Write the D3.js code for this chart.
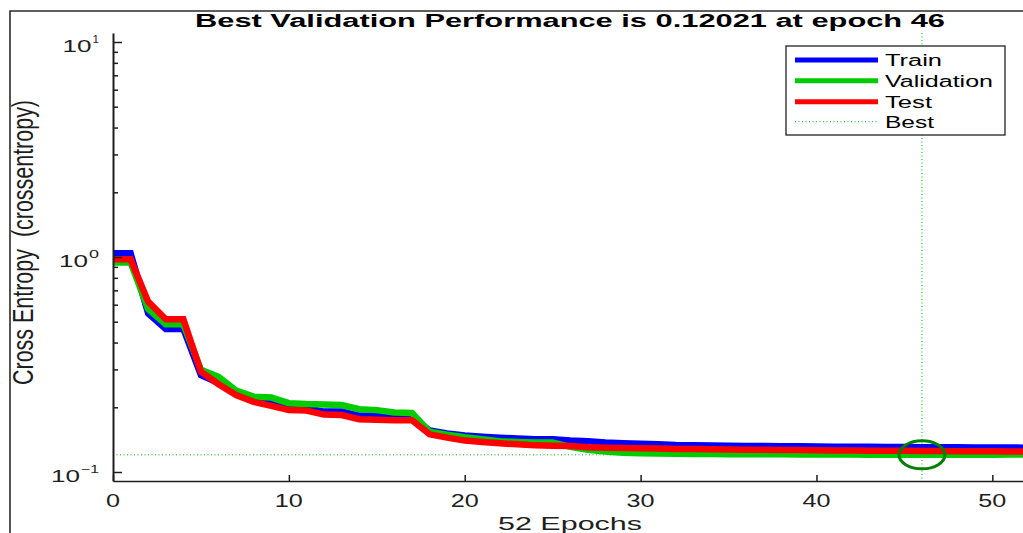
<!DOCTYPE html>
<html>
<head>
<meta charset="utf-8">
<script src="https://cdn.jsdelivr.net/npm/d3@7"></script>
<style>
  html, body { margin: 0; padding: 0; background: #fff; }
  svg { display: block; font-family: "Liberation Sans", Arial, sans-serif; }
</style>
</head>
<body>
<svg id="chart" width="1023" height="533"></svg>
<script>
// Training record: cross-entropy per epoch for each data split
const epochs = d3.range(0, 53);

const trainPerf = [
  1.04, 1.04, 0.547, 0.463, 0.463, 0.282, 0.259, 0.232, 0.216, 0.209,
  0.198, 0.198, 0.191, 0.191, 0.183, 0.182, 0.181, 0.181, 0.156, 0.151,
  0.148, 0.146, 0.1445, 0.143, 0.142, 0.142, 0.140, 0.139, 0.137, 0.136,
  0.1355, 0.1345, 0.1335, 0.1332, 0.1328, 0.1325, 0.1322, 0.132, 0.1318, 0.1316,
  0.1314, 0.1312, 0.131, 0.1309, 0.1308, 0.1306, 0.1305, 0.1303, 0.1302, 0.1301,
  0.13, 0.1299, 0.1298
];

const valPerf = [
  0.944, 0.944, 0.573, 0.486, 0.486, 0.299, 0.277, 0.239, 0.224, 0.222,
  0.209, 0.207, 0.206, 0.205, 0.196, 0.194, 0.189, 0.188, 0.154, 0.149,
  0.145, 0.142, 0.139, 0.138, 0.137, 0.137, 0.131, 0.127, 0.1245, 0.123,
  0.1222, 0.1218, 0.1215, 0.1213, 0.1211, 0.121, 0.1209, 0.1209, 0.1208, 0.1207,
  0.1207, 0.1206, 0.1205, 0.1204, 0.1204, 0.1203, 0.12021, 0.1203, 0.1203, 0.1204,
  0.1204, 0.1205, 0.1205
];

const testPerf = [
  0.976, 0.976, 0.62, 0.513, 0.513, 0.293, 0.256, 0.228, 0.212, 0.203,
  0.194, 0.193, 0.185, 0.184, 0.176, 0.175, 0.174, 0.174, 0.1497, 0.1445,
  0.140, 0.138, 0.136, 0.1345, 0.133, 0.1325, 0.132, 0.1305, 0.1297, 0.1292,
  0.129, 0.1285, 0.128, 0.1278, 0.1275, 0.1272, 0.127, 0.1268, 0.1266, 0.1264,
  0.1262, 0.126, 0.1258, 0.1257, 0.1255, 0.1254, 0.1252, 0.1251, 0.125, 0.1249,
  0.1248, 0.1247, 0.1246
];

const bestEpoch = 46;
const bestPerf = 0.12021;

const seriesNames = ["Train", "Validation", "Test", "Best"];
const seriesColors = ["#0000ff", "#00cc00", "#ff0000", "#00b400"];

const xTicks = [0, 10, 20, 30, 40, 50];
const yMajorTicks = [0.1, 1, 10];
const yMajorExp = ["\u22121", "0", "1"];
const yMinorTicks = [0.2, 0.3, 0.4, 0.5, 0.6, 0.7, 0.8, 0.9, 2, 3, 4, 5, 6, 7, 8, 9];

// Layout
const svg = d3.select("#chart");
const axisColor = "#1e1e1e";
const plotLeft = 113, plotBottom = 481, plotTop = 33;

const x = d3.scaleLinear().domain([0, 52]).range([plotLeft, 1027.5]);
const y = d3.scaleLog()
  .domain([Math.pow(10, -1 - 9 / 215), Math.pow(10, 1 + 9 / 215)])
  .range([plotBottom, plotTop]);

// Outer figure frame (top and left edges)
svg.append("path")
  .attr("d", "M10,533 V11 H1023")
  .attr("fill", "none")
  .attr("stroke", "#2a2a2a")
  .attr("stroke-width", 1.6);

// Best-epoch guide lines
const bx = x(bestEpoch), by = y(bestPerf);
svg.append("line")
  .attr("x1", bx).attr("x2", bx).attr("y1", plotTop).attr("y2", plotBottom)
  .attr("stroke", seriesColors[3]).attr("stroke-width", 1)
  .attr("stroke-dasharray", "1,2.5");
svg.append("line")
  .attr("x1", plotLeft).attr("x2", x(52)).attr("y1", by).attr("y2", by)
  .attr("stroke", seriesColors[3]).attr("stroke-width", 1)
  .attr("stroke-dasharray", "1,2.5");

// Performance curves
const line = d3.line().x((d, i) => x(epochs[i])).y(d => y(d));
[trainPerf, valPerf, testPerf].forEach((vals, k) => {
  svg.append("path")
    .datum(vals)
    .attr("d", line)
    .attr("fill", "none")
    .attr("stroke", seriesColors[k])
    .attr("stroke-width", 6.5)
    .attr("stroke-linejoin", "miter");
});

// Circle on the best validation point
svg.append("ellipse")
  .attr("cx", bx).attr("cy", by)
  .attr("rx", 23).attr("ry", 14)
  .attr("fill", "none")
  .attr("stroke", "#008000")
  .attr("stroke-width", 3);

// Axes with inward ticks
const gx = svg.append("g").attr("transform", `translate(0,${plotBottom})`)
  .call(d3.axisBottom(x).tickValues(xTicks).tickSizeInner(-6).tickSizeOuter(0).tickFormat(""));
const gy = svg.append("g").attr("transform", `translate(${plotLeft},0)`)
  .call(d3.axisLeft(y).tickValues(yMajorTicks).tickSizeInner(-9).tickSizeOuter(0).tickFormat(""));
const gyMinor = svg.append("g").attr("transform", `translate(${plotLeft},0)`)
  .call(d3.axisLeft(y).tickValues(yMinorTicks).tickSizeInner(-5).tickSizeOuter(0).tickFormat(""));
gyMinor.select(".domain").remove();
[gx, gy, gyMinor].forEach(g => {
  g.selectAll("path, line").attr("stroke", axisColor).attr("stroke-width", 1.5);
});
gy.select(".domain").attr("stroke-width", 2);
gx.select(".domain").attr("stroke-width", 1.5);

// X tick labels
svg.append("g").selectAll("text")
  .data(xTicks)
  .join("text")
  .attr("x", d => x(d))
  .attr("y", 507)
  .attr("text-anchor", "middle")
  .attr("font-size", 18)
  .attr("fill", axisColor)
  .attr("textLength", d => String(d).length * 14)
  .attr("lengthAdjust", "spacingAndGlyphs")
  .text(d => d);

// Y tick labels: 10 with superscript exponent
const supW = { "1": 6.5, "0": 10, "\u22121": 18 };
yMajorTicks.forEach((v, i) => {
  const base = y(v) + 9.7;
  const exp = yMajorExp[i];
  const w = supW[exp];
  const rightEdge = 99;
  svg.append("text")
    .attr("x", rightEdge).attr("y", base - 9)
    .attr("text-anchor", "end")
    .attr("font-size", 11)
    .attr("fill", axisColor)
    .attr("textLength", w)
    .attr("lengthAdjust", "spacingAndGlyphs")
    .text(exp);
  svg.append("text")
    .attr("x", rightEdge - w - 1).attr("y", base)
    .attr("text-anchor", "end")
    .attr("font-size", 17)
    .attr("fill", axisColor)
    .attr("textLength", 29)
    .attr("lengthAdjust", "spacingAndGlyphs")
    .text("10");
});

// Title
svg.append("text")
  .attr("x", 570).attr("y", 27)
  .attr("text-anchor", "middle")
  .attr("font-size", 18)
  .attr("font-weight", "bold")
  .attr("fill", "#000")
  .attr("textLength", 750)
  .attr("lengthAdjust", "spacingAndGlyphs")
  .text(`Best Validation Performance is ${bestPerf} at epoch ${bestEpoch}`);

// Axis labels
svg.append("text")
  .attr("x", 570).attr("y", 530)
  .attr("text-anchor", "middle")
  .attr("font-size", 18)
  .attr("fill", axisColor)
  .attr("textLength", 144)
  .attr("lengthAdjust", "spacingAndGlyphs")
  .text(`${epochs.length - 1} Epochs`);

svg.append("text")
  .attr("transform", "translate(33,242.5) scale(1.6,1) rotate(-90)")
  .attr("text-anchor", "middle")
  .attr("font-size", 18)
  .attr("fill", axisColor)
  .attr("textLength", 285)
  .attr("lengthAdjust", "spacingAndGlyphs")
  .style("white-space", "pre")
  .text("Cross Entropy  (crossentropy)");

// Legend
const legend = svg.append("g");
legend.append("rect")
  .attr("x", 786).attr("y", 46).attr("width", 219).attr("height", 89)
  .attr("fill", "#fff").attr("stroke", "#222").attr("stroke-width", 1.3);
const legendY = [60, 80.7, 101.7, 121.7];
const legendTextW = [57, 108, 47, 49];
seriesNames.forEach((name, i) => {
  const ln = legend.append("line")
    .attr("x1", 795).attr("x2", 878)
    .attr("y1", legendY[i]).attr("y2", legendY[i])
    .attr("stroke", seriesColors[i]);
  if (i < 3) {
    ln.attr("stroke-width", 5);
  } else {
    ln.attr("stroke-width", 1).attr("stroke-dasharray", "1,2.5");
  }
  legend.append("text")
    .attr("x", 885).attr("y", legendY[i] + 6)
    .attr("font-size", 16)
    .attr("fill", "#000")
    .attr("textLength", legendTextW[i])
    .attr("lengthAdjust", "spacingAndGlyphs")
    .text(name);
});
</script>
</body>
</html>
